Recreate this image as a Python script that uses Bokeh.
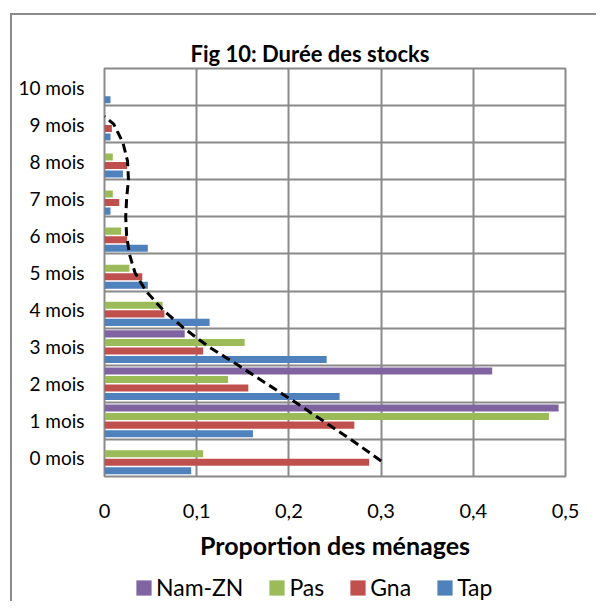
from bokeh.plotting import figure
from bokeh.layouts import column
from bokeh.models import FixedTicker, CustomJSTickFormatter, Legend, LegendItem, ColumnDataSource
from bokeh.embed import file_html
from bokeh.resources import INLINE

months = ["0 mois", "1 mois", "2 mois", "3 mois", "4 mois", "5 mois",
          "6 mois", "7 mois", "8 mois", "9 mois", "10 mois"]
tap = [0.094, 0.161, 0.255, 0.241, 0.114, 0.047, 0.047, 0.0065, 0.020, 0.0065, 0.0065]
gna = [0.287, 0.271, 0.156, 0.107, 0.065, 0.041, 0.0245, 0.016, 0.0245, 0.008, 0.0]
pas = [0.107, 0.482, 0.134, 0.152, 0.063, 0.027, 0.018, 0.009, 0.009, 0.0, 0.0]
nam_zn = [0.0, 0.4925, 0.4205, 0.087, 0.0, 0.0, 0.0, 0.0, 0.0, 0.0, 0.0]

# dashed trend curve (position in category units, value)
trend_pos = [-0.08, 0.5, 1.0, 1.5, 2.0, 2.5, 3.0, 3.5, 4.0, 4.5, 5.0, 5.5,
             6.0, 6.5, 7.0, 7.5, 8.0, 8.5, 9.0, 9.21]
trend_val = [0.300, 0.267, 0.237, 0.207, 0.176, 0.145, 0.113, 0.086, 0.063, 0.045,
             0.033, 0.027, 0.024, 0.023, 0.024, 0.026, 0.025, 0.020, 0.010, 0.0]

x_ticks = [0, 0.1, 0.2, 0.3, 0.4, 0.5]

series = [("Tap", tap, "#4F81BD", -0.345),
          ("Gna", gna, "#C0504D", -0.115),
          ("Pas", pas, "#9BBB59", 0.115),
          ("Nam-ZN", nam_zn, "#8064A2", 0.345)]
legend_order = ["Nam-ZN", "Pas", "Gna", "Tap"]

FONT = "Lato"
GRID = "#8a8a8a"

p = figure(width=584, height=556, output_backend="svg", toolbar_location=None,
           x_range=(0, 0.5), y_range=(-0.5, 10.5),
           min_border_left=92, min_border_right=31, min_border_top=53,
           min_border_bottom=95, title="Fig 10: Durée des stocks")

p.title.text_font = FONT
p.title.text_font_size = "22px"
p.title.text_font_style = "bold"
p.title.align = "left"
p.title.offset = 86
p.title.standoff = 3
p.title.text_color = "black"

idx = list(range(len(months)))
colors = {}
for name, vals, col, off in series:
    src = ColumnDataSource(dict(y=[i + off for i in idx], right=vals))
    p.hbar(y="y", right="right", left=0, height=0.19, source=src,
           fill_color=col, line_color=None)
    colors[name] = col

p.line(trend_val, trend_pos, line_color="black", line_width=3, line_dash="9 5")

# axes
p.xaxis.ticker = FixedTicker(ticks=x_ticks)
p.xaxis.formatter = CustomJSTickFormatter(
    code="return tick == 0 ? '0' : tick.toFixed(1).replace('.', ',');")
p.xaxis.axis_label = "Proportion des ménages"
p.xaxis.axis_label_text_font = FONT
p.xaxis.axis_label_text_font_size = "25px"
p.xaxis.axis_label_text_font_style = "bold"
p.xaxis.axis_label_text_color = "black"
p.xaxis.axis_label_standoff = 9
p.xaxis.major_label_text_font = FONT
p.xaxis.major_label_text_font_size = "20px"
p.xaxis.major_label_text_color = "black"
p.xaxis.major_label_standoff = 21
p.xaxis.axis_line_color = None
p.xaxis.major_tick_line_color = None
p.xaxis.minor_tick_line_color = None

p.yaxis.ticker = FixedTicker(ticks=idx)
p.yaxis.major_label_overrides = {i: m for i, m in zip(idx, months)}
p.yaxis.major_label_text_font = FONT
p.yaxis.major_label_text_font_size = "19px"
p.yaxis.major_label_text_color = "black"
p.yaxis.major_label_standoff = 14
p.yaxis.axis_line_color = None
p.yaxis.major_tick_line_color = None
p.yaxis.minor_tick_line_color = None

p.xgrid.ticker = FixedTicker(ticks=x_ticks)
p.xgrid.grid_line_color = GRID
p.xgrid.grid_line_width = 2
p.ygrid.ticker = FixedTicker(ticks=[i + 0.5 for i in idx[:-1]])
p.ygrid.grid_line_color = GRID
p.ygrid.grid_line_width = 2
p.outline_line_color = GRID
p.outline_line_width = 2

# legend strip (separate small figure placed under the chart)
lg = figure(width=584, height=30, output_backend="svg", toolbar_location=None,
            x_range=(0, 1), y_range=(0, 1),
            x_axis_location=None, y_axis_location=None,
            min_border_left=92, min_border_right=31, min_border_top=0, min_border_bottom=0)
lg.grid.visible = False
lg.outline_line_color = None
items = []
for name in legend_order:
    # proxy renderer kept outside the visible range: it only supplies the legend swatch
    r = lg.quad(left=[2], right=[3], top=[3], bottom=[2], fill_color=colors[name], line_color=None)
    items.append(LegendItem(label=name, renderers=[r]))
legend = Legend(items=items, orientation="horizontal", location=(30, 0))
legend.label_text_font = FONT
legend.label_text_font_size = "23px"
legend.label_text_color = "black"
legend.glyph_width = 19
legend.glyph_height = 19
legend.spacing = 24
legend.label_standoff = 3
legend.border_line_color = None
legend.background_fill_alpha = 0
legend.padding = 0
legend.margin = 0
lg.add_layout(legend, "center")

layout = column(p, lg, spacing=0)
layout.styles = {"border-left": "2px solid #8a8a8a", "border-top": "2px solid #8a8a8a",
                 "margin-left": "10px", "margin-top": "13px"}

open("out.html", "w").write(file_html(layout, INLINE))
